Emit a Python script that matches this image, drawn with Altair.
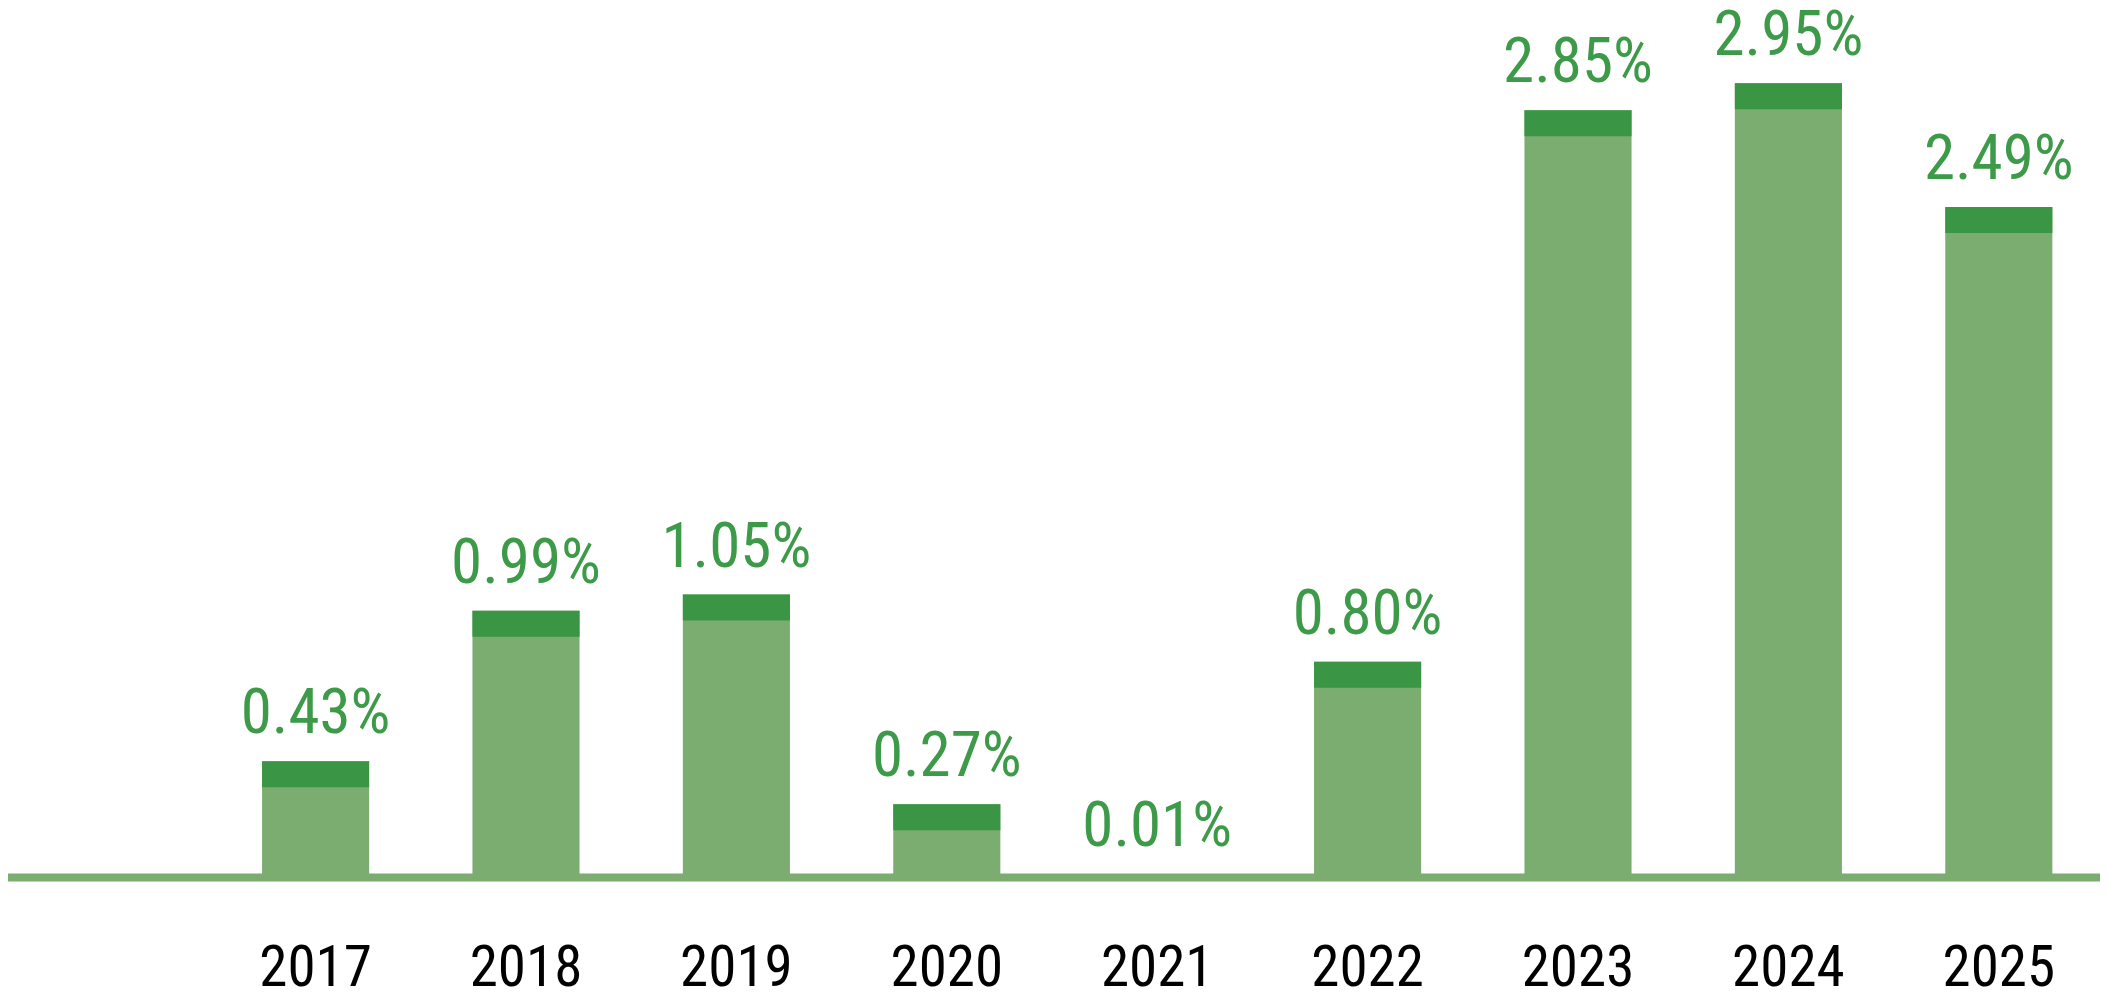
import altair as alt
import pandas as pd

years = ["2017", "2018", "2019", "2020", "2021", "2022", "2023", "2024", "2025"]
values = [0.43, 0.99, 1.05, 0.27, 0.01, 0.80, 2.85, 2.95, 2.49]

LIGHT = "#7bac70"
DARK = "#3a9645"
TEXT = "#3d9a48"
FONT = "Roboto Condensed, DejaVu Sans Condensed, sans-serif"

df = pd.DataFrame({"year": years, "value": values})

domain = [""] + years
x_scale = alt.Scale(domain=domain, range=[-8, 2096], paddingInner=0.491, paddingOuter=0.2455)
y_scale = alt.Scale(domain=[0, 3.23], nice=False, zero=True)

x_enc = alt.X(
    "year:N",
    scale=x_scale,
    sort=domain,
    axis=alt.Axis(
        title=None,
        domain=True,
        domainColor=LIGHT,
        domainWidth=8,
        ticks=False,
        tickSize=0,
        grid=False,
        labelPadding=108,
        labelBaseline="alphabetic",
        labelFont=FONT,
        labelFontSize=57,
        labelColor="#000000",
        labelAngle=0,
        zindex=1,
    ),
)

base = alt.Chart(df)

light = base.mark_bar(color=LIGHT).encode(
    x=x_enc,
    y=alt.Y("value:Q", scale=y_scale, axis=None),
)

cap = base.transform_calculate(
    low="max(0, datum.value - 0.0966)"
).mark_bar(color=DARK).encode(
    x=x_enc,
    y=alt.Y("value:Q", scale=y_scale, axis=None),
    y2="low:Q",
)

labels = base.transform_calculate(
    label="format(datum.value, '.2f') + '%'"
).mark_text(
    color=TEXT, font=FONT, fontSize=63, baseline="alphabetic", align="center", dy=-28
).encode(
    x=x_enc,
    y=alt.Y("value:Q", scale=y_scale, axis=None),
    text="label:N",
)

chart = alt.layer(light, cap, labels).properties(
    width=2092,
    height=869,
    padding={"left": 0, "top": 0, "right": 0, "bottom": 115},
    autosize=alt.AutoSizeParams(type="none"),
    background="white",
).configure_view(stroke=None, strokeWidth=0)

chart.save("out.html", embed_options={"renderer": "svg", "actions": False})
